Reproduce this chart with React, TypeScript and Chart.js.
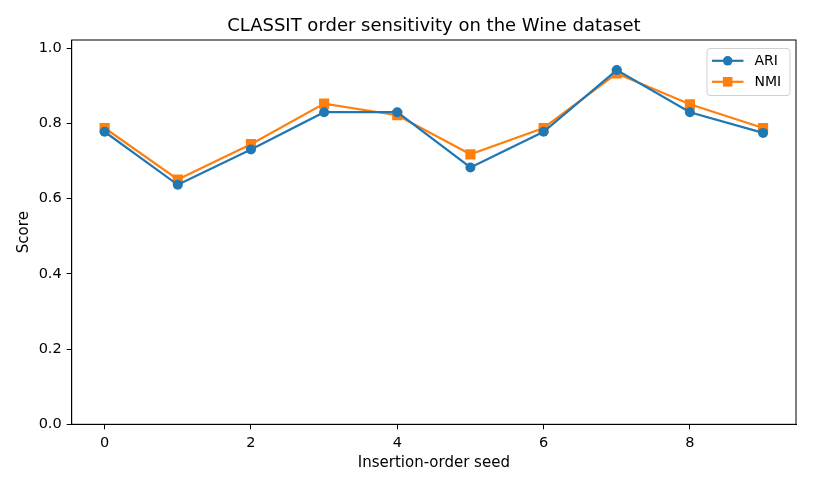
import React, { useRef, useEffect } from 'react';
import { Chart, registerables } from 'chart.js';

Chart.register(...registerables);

const seeds = [0, 1, 2, 3, 4, 5, 6, 7, 8, 9];
const ariValues = [0.778, 0.637, 0.731, 0.830, 0.830, 0.683, 0.778, 0.942, 0.830, 0.775];
const nmiValues = [0.788, 0.651, 0.745, 0.853, 0.822, 0.718, 0.788, 0.933, 0.851, 0.788];
const xTicks = [0, 2, 4, 6, 8];
const yTicks = [0, 0.2, 0.4, 0.6, 0.8, 1.0];

const FONT = "'DejaVu Sans', sans-serif";

// frame, title and legend drawn the matplotlib way
const decorPlugin = {
    id: 'decor',
    afterDraw(chart: any) {
        const { ctx, chartArea } = chart;
        const { left, right, top, bottom } = chartArea;
        ctx.save();
        ctx.strokeStyle = '#000';
        ctx.lineWidth = 1;
        ctx.strokeRect(left, top, right - left, bottom - top);

        ctx.fillStyle = '#000';
        ctx.font = `18px ${FONT}`;
        ctx.textAlign = 'center';
        ctx.textBaseline = 'alphabetic';
        ctx.fillText('CLASSIT order sensitivity on the Wine dataset', (left + right) / 2, 31);

        // legend
        const bx = 707, by = 48.5, bw = 83, bh = 47;
        ctx.fillStyle = 'rgba(255,255,255,0.8)';
        ctx.strokeStyle = '#d0d0d0';
        ctx.beginPath();
        ctx.roundRect(bx, by, bw, bh, 3);
        ctx.fill();
        ctx.stroke();
        chart.data.datasets.forEach((ds: any, i: number) => {
            const y = 60.8 + i * 21;
            ctx.strokeStyle = ds.borderColor;
            ctx.lineWidth = 2.2;
            ctx.beginPath();
            ctx.moveTo(712, y);
            ctx.lineTo(743.5, y);
            ctx.stroke();
            ctx.fillStyle = ds.borderColor;
            ctx.beginPath();
            if (ds.pointStyle === 'rect') {
                ctx.rect(727.7 - 4.8, y - 4.8, 9.6, 9.6);
            } else {
                ctx.arc(727.7, y, 4.8, 0, Math.PI * 2);
            }
            ctx.fill();
            ctx.fillStyle = '#000';
            ctx.font = `14px ${FONT}`;
            ctx.textAlign = 'left';
            ctx.textBaseline = 'middle';
            ctx.fillText(ds.label, 754.5, y + 0.5);
        });
        ctx.restore();
    },
};

const App: React.FC = () => {
    const canvasRef = useRef<HTMLCanvasElement | null>(null);

    useEffect(() => {
        document.body.style.margin = '0';
        if (!canvasRef.current) return;
        const tickStyle = { color: '#000', font: { family: FONT, size: 14.5 }, padding: 5 };
        const gridStyle = { drawOnChartArea: false, drawTicks: true, tickLength: 5, color: '#000', lineWidth: 1 };
        const chart = new Chart(canvasRef.current, {
            type: 'line',
            data: {
                datasets: [
                    {
                        label: 'ARI',
                        data: seeds.map((s, i) => ({ x: s, y: ariValues[i] })),
                        borderColor: '#1f77b4',
                        backgroundColor: '#1f77b4',
                        borderWidth: 2.2,
                        pointStyle: 'circle',
                        pointRadius: 5,
                        pointBorderWidth: 0,
                    },
                    {
                        label: 'NMI',
                        data: seeds.map((s, i) => ({ x: s, y: nmiValues[i] })),
                        borderColor: '#ff7f0e',
                        backgroundColor: '#ff7f0e',
                        borderWidth: 2.2,
                        pointStyle: 'rect',
                        pointRadius: 7.2,
                        pointBorderWidth: 0,
                    },
                ],
            },
            options: {
                animation: false,
                responsive: false,
                layout: { padding: { top: 40, right: 17, left: 0, bottom: 0 } },
                plugins: {
                    legend: { display: false },
                    title: { display: false },
                    tooltip: { enabled: false },
                },
                scales: {
                    x: {
                        type: 'linear',
                        min: -0.45,
                        max: 9.45,
                        afterBuildTicks: (scale: any) => {
                            scale.ticks = xTicks.map((v) => ({ value: v }));
                        },
                        afterFit: (scale: any) => {
                            scale.height = 63.7;
                        },
                        ticks: { ...tickStyle, callback: (v: any) => String(v) },
                        grid: gridStyle,
                        border: { display: true, color: '#000', width: 1 },
                        title: {
                            display: true,
                            text: 'Insertion-order seed',
                            color: '#000',
                            font: { family: FONT, size: 15 },
                            padding: { top: 0, bottom: 16 },
                        },
                    },
                    y: {
                        min: 0,
                        max: 1.022,
                        afterBuildTicks: (scale: any) => {
                            scale.ticks = yTicks.map((v) => ({ value: v }));
                        },
                        afterFit: (scale: any) => {
                            scale.width = 71.7;
                        },
                        ticks: { ...tickStyle, callback: (v: any) => Number(v).toFixed(1) },
                        grid: gridStyle,
                        border: { display: true, color: '#000', width: 1 },
                        title: {
                            display: true,
                            text: 'Score',
                            color: '#000',
                            font: { family: FONT, size: 15 },
                            padding: { top: 15, bottom: 0 },
                        },
                    },
                },
            },
            plugins: [decorPlugin],
        });
        return () => {
            chart.destroy();
        };
    }, []);

    return (
        <div style={{ width: 813, height: 488, background: '#fff' }}>
            <canvas ref={canvasRef} width={813} height={488} style={{ width: 813, height: 488 }} />
        </div>
    );
};

export default App;
